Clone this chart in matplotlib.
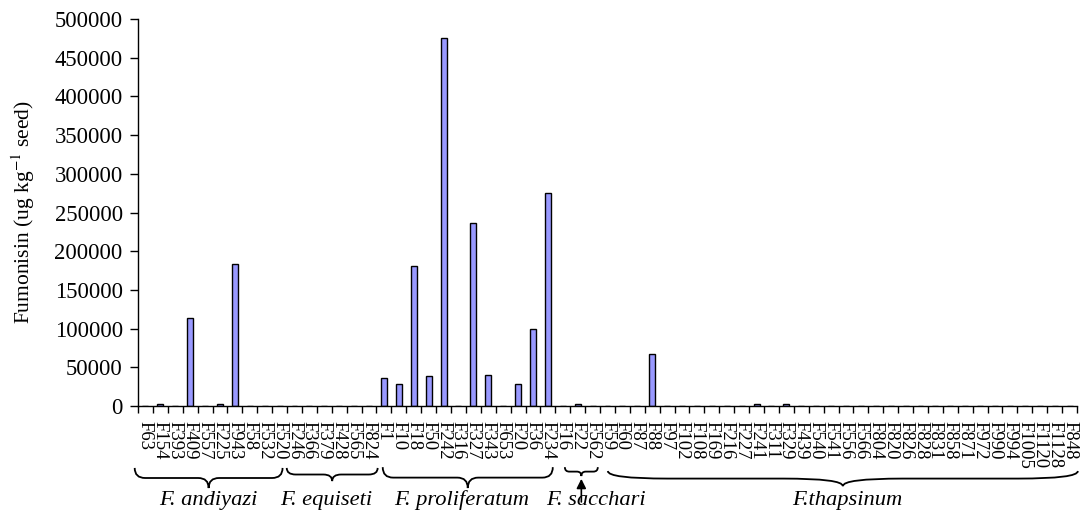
import matplotlib
matplotlib.use("Agg")
import matplotlib.pyplot as plt
from matplotlib.path import Path
from matplotlib.patches import PathPatch
from matplotlib.transforms import blended_transform_factory

# strain labels, grouped by species
andiyazi = ["F63", "F154", "F393", "F409", "F557", "F225", "F943", "F58", "F532", "F520"]
equiseti = ["F246", "F366", "F379", "F428", "F565", "F824"]
proliferatum = ["F1", "F10", "F18", "F50", "F242", "F316", "F327", "F343", "F653",
                "F20", "F36", "F234"]
sacchari = ["F16", "F22", "F562"]
thapsinum = ["F59", "F60", "F87", "F88", "F97", "F102", "F108", "F169", "F216", "F227",
             "F241", "F311", "F329", "F439", "F540", "F541", "F556", "F566", "F804",
             "F820", "F826", "F828", "F831", "F858", "F871", "F972", "F990", "F994",
             "F1005", "F1120", "F1128", "F848"]

andiyazi_vals = [0, 2000, 0, 114000, 0, 2000, 183000, 0, 0, 0]
equiseti_vals = [0, 0, 0, 0, 0, 0]
proliferatum_vals = [36000, 29000, 181000, 39000, 476000, 0, 237000, 40000, 0,
                     29000, 100000, 275000]
sacchari_vals = [0, 2000, 0]
thapsinum_vals = [0, 0, 0, 67000, 0, 0, 0, 0, 0, 0,
                  2000, 0, 2000, 0, 0, 0, 0, 0, 0,
                  0, 0, 0, 0, 0, 0, 0, 0, 0,
                  0, 0, 0, 0]

group_names = ["F. andiyazi", "F. equiseti", "F. proliferatum", "F. sacchari", "F.thapsinum"]

strains = andiyazi + equiseti + proliferatum + sacchari + thapsinum
values = andiyazi_vals + equiseti_vals + proliferatum_vals + sacchari_vals + thapsinum_vals

plt.rcParams["font.family"] = ["Liberation Serif", "DejaVu Serif"]
plt.rcParams["mathtext.fontset"] = "stix"

fig = plt.figure(figsize=(10.89, 5.19), dpi=100)
ax = fig.add_axes([0.1267, 0.2177, 0.8623, 0.7457])

x = list(range(len(strains)))
ax.bar(x, values, width=0.4, color="#9999ff", edgecolor="black", linewidth=1.0)

ax.set_xlim(-0.5, len(strains) - 0.5)
ax.set_ylim(0, 500000)
ax.set_yticks(range(0, 500001, 50000))
ax.tick_params(axis="y", labelsize=16.3, length=6, width=1, pad=5, direction="out")

ax.set_xticks(x)
ax.set_xticklabels(strains, rotation=-90, fontsize=13.5, va="top", ha="center")
ax.tick_params(axis="x", which="major", length=0, pad=11)
ax.set_xticks([i - 0.5 for i in range(len(strains) + 1)], minor=True)
ax.tick_params(axis="x", which="minor", length=5, width=1, direction="out")

for s in ["top", "right"]:
    ax.spines[s].set_visible(False)
for s in ["left", "bottom"]:
    ax.spines[s].set_linewidth(1.0)

ax.set_ylabel("Fumonisin (ug kg$^{-1}$ seed)", fontsize=15.5)
ax.yaxis.set_label_coords(-0.108, 0.5)

trans = blended_transform_factory(ax.transData, ax.transAxes)


def draw_brace(x0, x1, y_top, y_tip, r):
    xm = (x0 + x1) / 2
    ym = (y_top + y_tip) / 2
    verts = [(x0, y_top), (x0, ym), (x0 + r, ym), (xm - r, ym), (xm, ym), (xm, y_tip),
             (xm, ym), (xm + r, ym), (x1 - r, ym), (x1, ym), (x1, y_top)]
    codes = [Path.MOVETO, Path.CURVE3, Path.CURVE3, Path.LINETO, Path.CURVE3, Path.CURVE3,
             Path.CURVE3, Path.CURVE3, Path.LINETO, Path.CURVE3, Path.CURVE3]
    patch = PathPatch(Path(verts, codes), facecolor="none", edgecolor="black",
                      linewidth=1.3, transform=trans, clip_on=False)
    ax.add_patch(patch)


# brace extents / shapes (layout only)
brace_spans = [(-0.72, 9.2), (9.48, 15.58), (15.92, 27.33), (28.14, 30.35), (31.02, 62.56)]
brace_y = [(-0.160, -0.212), (-0.160, -0.194), (-0.158, -0.212), (-0.158, -0.181), (-0.168, -0.207)]
brace_r = [0.7, 0.6, 0.7, 0.3, 4.0]
label_x = [4.21, 12.16, 21.19, 30.25, 47.1]

for (x0, x1), (yt, yb), r, lx, name in zip(brace_spans, brace_y, brace_r, label_x, group_names):
    draw_brace(x0, x1, yt, yb, r)
    ax.text(lx, -0.256, name, transform=trans, ha="center", va="baseline",
            fontsize=16.2, style="italic")

# arrow from the F. sacchari label up to its brace
sx = (brace_spans[3][0] + brace_spans[3][1]) / 2
ax.annotate("", xy=(sx, -0.181), xycoords=trans, xytext=(sx, -0.255), textcoords=trans,
            arrowprops=dict(arrowstyle="-|>", color="black", lw=1.2, mutation_scale=14),
            annotation_clip=False)

fig.savefig("out.png", dpi=100)
